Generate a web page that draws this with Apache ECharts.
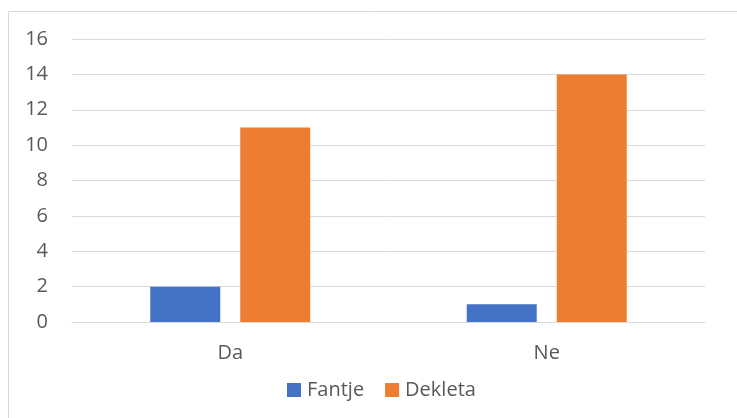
<!DOCTYPE html>
<html><head><meta charset="utf-8">
<script src="https://cdn.jsdelivr.net/npm/echarts@6/dist/echarts.min.js"></script>
<style>html,body{margin:0;padding:0;background:#fff}#c{width:737px;height:418px}</style>
</head><body><div id="c"></div>
<script>
const categories = ['Da', 'Ne'];
const fantje = [2, 1];
const dekleta = [11, 14];
const yTicks = [0, 2, 4, 6, 8, 10, 12, 14, 16];

const chart = echarts.init(document.getElementById('c'), null, {renderer: 'canvas'});
const font = '"Open Sans", "Noto Sans", sans-serif';
chart.setOption({
  animation: false,
  graphic: [{type: 'rect', shape: {x: 8.5, y: 11.5, width: 740, height: 420}, style: {fill: 'none', stroke: '#d9d9d9', lineWidth: 1}}],
  grid: {left: 72, right: 32, top: 39, bottom: 96},
  legend: {
    top: 375, left: 282, itemWidth: 14, itemHeight: 14, itemGap: 21,
    icon: 'rect',
    textStyle: {fontFamily: font, fontSize: 20, color: '#595959', padding: [0, 0, 0, 1]},
    data: ['Fantje', 'Dekleta']
  },
  xAxis: {
    type: 'category', data: categories,
    axisLine: {show: true, lineStyle: {color: '#d9d9d9'}},
    axisTick: {show: false},
    axisLabel: {fontFamily: font, fontSize: 20, color: '#595959', margin: 21}
  },
  yAxis: {
    type: 'value', min: yTicks[0], max: yTicks[yTicks.length - 1], interval: 2,
    axisLine: {show: false}, axisTick: {show: false},
    splitLine: {lineStyle: {color: '#d9d9d9', width: 1}},
    axisLabel: {fontFamily: font, fontSize: 20, color: '#595959', margin: 24}
  },
  series: [
    {name: 'Fantje', type: 'bar', data: fantje, barWidth: 70, barGap: '28.6%', itemStyle: {color: '#4472c4'}},
    {name: 'Dekleta', type: 'bar', data: dekleta, barWidth: 70, itemStyle: {color: '#ed7d31'}}
  ]
});
</script></body></html>
